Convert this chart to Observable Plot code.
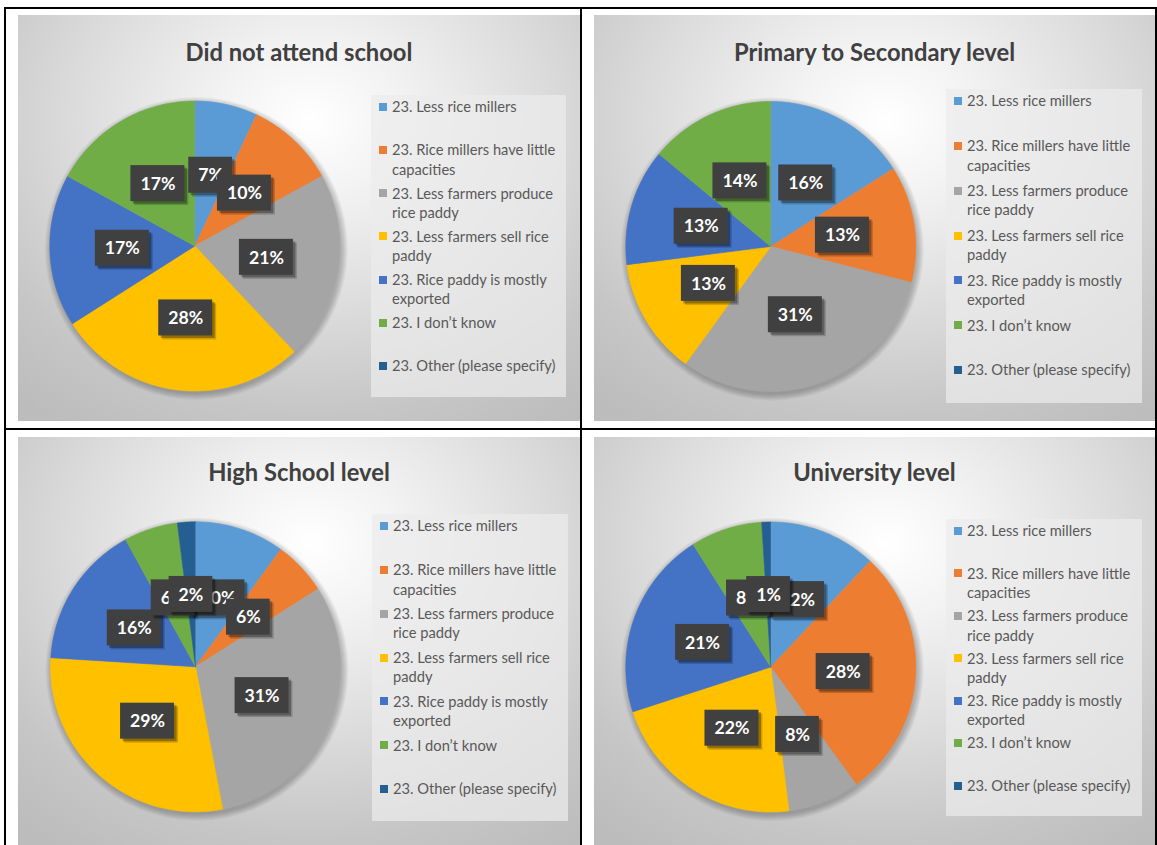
<!DOCTYPE html>
<html>
<head>
<meta charset="utf-8">
<script src="https://cdn.jsdelivr.net/npm/d3@7"></script>
<script src="https://cdn.jsdelivr.net/npm/@observablehq/plot@0.6"></script>
<style>
  html, body { margin: 0; padding: 0; background: #ffffff; }
  body { width: 1157px; height: 845px; position: relative; overflow: hidden; font-family: Lato, "Open Sans", sans-serif; }
  .panel { position: absolute; overflow: hidden;
    background: radial-gradient(ellipse 80% 90% at 52% 26%, #ffffff 0%, #f3f3f3 20%, #dcdcdc 52%, #c6c6c6 80%, #bcbcbc 100%); }
  .panel svg { position: absolute; left: 0; top: 0; overflow: visible; }
  .title { position: absolute; left: 0; white-space: nowrap; font-weight: 700; color: #404040; text-align: center; }
  .legend { position: absolute; background: rgba(236,236,236,0.72); }
  .item { position: absolute; color: #595959; }
  .swatch { position: absolute; width: 8px; height: 8px; }
  .rule { position: absolute; background: #000; z-index: 5; }
</style>
</head>
<body>
<script>
// ---------- data ----------
const categories = [
  "23. Less rice millers",
  "23. Rice millers have little capacities",
  "23. Less farmers produce rice paddy",
  "23. Less farmers sell rice paddy",
  "23. Rice paddy is mostly exported",
  "23. I don’t know",
  "23. Other (please specify)"
];
const colors = ["#5B9BD5", "#ED7D31", "#A5A5A5", "#FFC000", "#4472C4", "#70AD47", "#255E91"];
const titles = ["Did not attend school", "Primary to Secondary level", "High School level", "University level"];
const noSchool         = [7, 10, 21, 28, 17, 17, 0];
const primarySecondary = [16, 13, 31, 13, 13, 14, 0];
const highSchool       = [10, 6, 31, 29, 16, 6, 2];
const university       = [12, 28, 8, 22, 21, 8, 1];

// ---------- layout ----------
const panels = [
  {title: titles[0], values: noSchool,         left: 18,  top: 15,  w: 562, h: 406, cx: 176.3, cy: 230.5, ty: 46.7, legend: {x: 353, y: 80, w: 195, h: 302}},
  {title: titles[1], values: primarySecondary, left: 594, top: 15,  w: 561, h: 406, cx: 176.3, cy: 231,   ty: 46.7, legend: {x: 352, y: 74, w: 196, h: 314}},
  {title: titles[2], values: highSchool,       left: 18,  top: 437, w: 562, h: 408, cx: 177,   cy: 229.3, ty: 44.7, legend: {x: 354, y: 77, w: 196, h: 307}},
  {title: titles[3], values: university,       left: 594, top: 437, w: 561, h: 408, cx: 176.3, cy: 229.5, ty: 44.7, legend: {x: 352, y: 82, w: 196, h: 297}}
];
const R = 145;

// font sizes fitted to the reference's measured text widths
const ctx = document.createElement("canvas").getContext("2d");
function fit(text, weight, target) {
  ctx.font = `${weight} 100px Lato`;
  return 100 * target / ctx.measureText(text).width;
}
const titleSize = fit("Did not attend school", 700, 227);
const legendSize = fit("23. Less rice millers", 400, 124.7);
const labelSize = fit("16%", 700, 35);
function textW(text, weight, size) {
  ctx.font = `${weight} ${size}px Lato`;
  return ctx.measureText(text).width;
}

function slicesFor(values) {
  const total = d3.sum(values);
  let acc = 0;
  const pts = [], labels = [];
  values.forEach((v, i) => {
    const a0 = acc / total * 2 * Math.PI;
    acc += v;
    const a1 = acc / total * 2 * Math.PI;
    if (!v) return;
    const n = Math.max(2, Math.ceil((a1 - a0) / (Math.PI / 180)));
    pts.push({cat: categories[i], x: 0, y: 0});
    for (let k = 0; k <= n; k++) {
      const a = a0 + (a1 - a0) * k / n;
      pts.push({cat: categories[i], x: Math.sin(a), y: -Math.cos(a)});
    }
    const am = (a0 + a1) / 2;
    const text = v + "%";
    labels.push({cat: categories[i], x: 0.5 * Math.sin(am), y: -0.5 * Math.cos(am), text,
                 hw: (textW(text, 700, labelSize) / 2 + 9.5) / R, hh: 18 / R});
  });
  return {pts, labels};
}

panels.forEach(p => {
  const div = document.createElement("div");
  div.className = "panel";
  Object.assign(div.style, {left: p.left + "px", top: p.top + "px", width: p.w + "px", height: p.h + "px"});
  document.body.appendChild(div);

  const t = document.createElement("div");
  t.className = "title";
  t.textContent = p.title;
  Object.assign(t.style, {width: p.w + "px", fontSize: titleSize + "px", lineHeight: titleSize + "px",
    top: (p.ty - 0.887 * titleSize) + "px"});
  div.appendChild(t);

  const lg = document.createElement("div");
  lg.className = "legend";
  Object.assign(lg.style, {left: p.legend.x + "px", top: p.legend.y + "px", width: p.legend.w + "px", height: p.legend.h + "px"});
  div.appendChild(lg);
  const slot = p.legend.h / categories.length;
  categories.forEach((c, i) => {
    const sw = document.createElement("div");
    sw.className = "swatch";
    Object.assign(sw.style, {left: "8px", top: (i * slot + 12 - 4) + "px", background: colors[i]});
    lg.appendChild(sw);
    const it = document.createElement("div");
    it.className = "item";
    it.textContent = c;
    Object.assign(it.style, {left: "21px", width: "176px", top: (i * slot + 12 - 9.65) + "px",
      fontSize: legendSize + "px", lineHeight: "19.3px"});
    lg.appendChild(it);
  });

  const {pts, labels} = slicesFor(p.values);
  const origin = [{x: 0, y: 0}];
  const marks = [];
  // soft outer shadow of the pie
  for (let k = 0; k < 7; k++) {
    marks.push(Plot.dot(origin, {x: "x", y: "y", r: R + 0.5 + k, fill: "#000", fillOpacity: 0.035,
      stroke: null, dx: 1.5, dy: 2.5}));
  }
  marks.push(Plot.line(pts, {x: "x", y: "y", z: "cat", fill: "cat", stroke: "cat", strokeWidth: 0.6}));
  labels.forEach(l => {
    const box = {x1: d => d.x - d.hw, x2: d => d.x + d.hw, y1: d => d.y - d.hh, y2: d => d.y + d.hh};
    marks.push(Plot.rect([l], {...box, fill: "#000", fillOpacity: 0.18, dx: 4, dy: 4}));
    marks.push(Plot.rect([l], {...box, fill: "#000", fillOpacity: 0.3, dx: 2.5, dy: 2.5}));
    marks.push(Plot.rect([l], {...box, fill: "#404040"}));
    marks.push(Plot.text([l], {x: "x", y: "y", text: "text", fill: "#ffffff", fontWeight: 700,
      fontSize: labelSize, fontFamily: "Lato", dy: 0.5}));
  });
  const chart = Plot.plot({
    width: p.w, height: p.h, margin: 0,
    x: {domain: [-1, 1], range: [p.cx - R, p.cx + R], axis: null},
    y: {domain: [-1, 1], range: [p.cy - R, p.cy + R], axis: null},
    color: {domain: categories, range: colors},
    style: {background: "transparent", overflow: "visible"},
    marks
  });
  div.appendChild(chart);
});

const rules = [
  {l: 4, t: 7, w: 1153, h: 2},
  {l: 4, t: 7, w: 2, h: 838},
  {l: 580, t: 7, w: 2, h: 838},
  {l: 1155, t: 7, w: 2, h: 838},
  {l: 4, t: 428, w: 1153, h: 2}
];
rules.forEach(r => {
  const d = document.createElement("div");
  d.className = "rule";
  Object.assign(d.style, {left: r.l + "px", top: r.t + "px", width: r.w + "px", height: r.h + "px"});
  document.body.appendChild(d);
});
</script>
</body>
</html>
